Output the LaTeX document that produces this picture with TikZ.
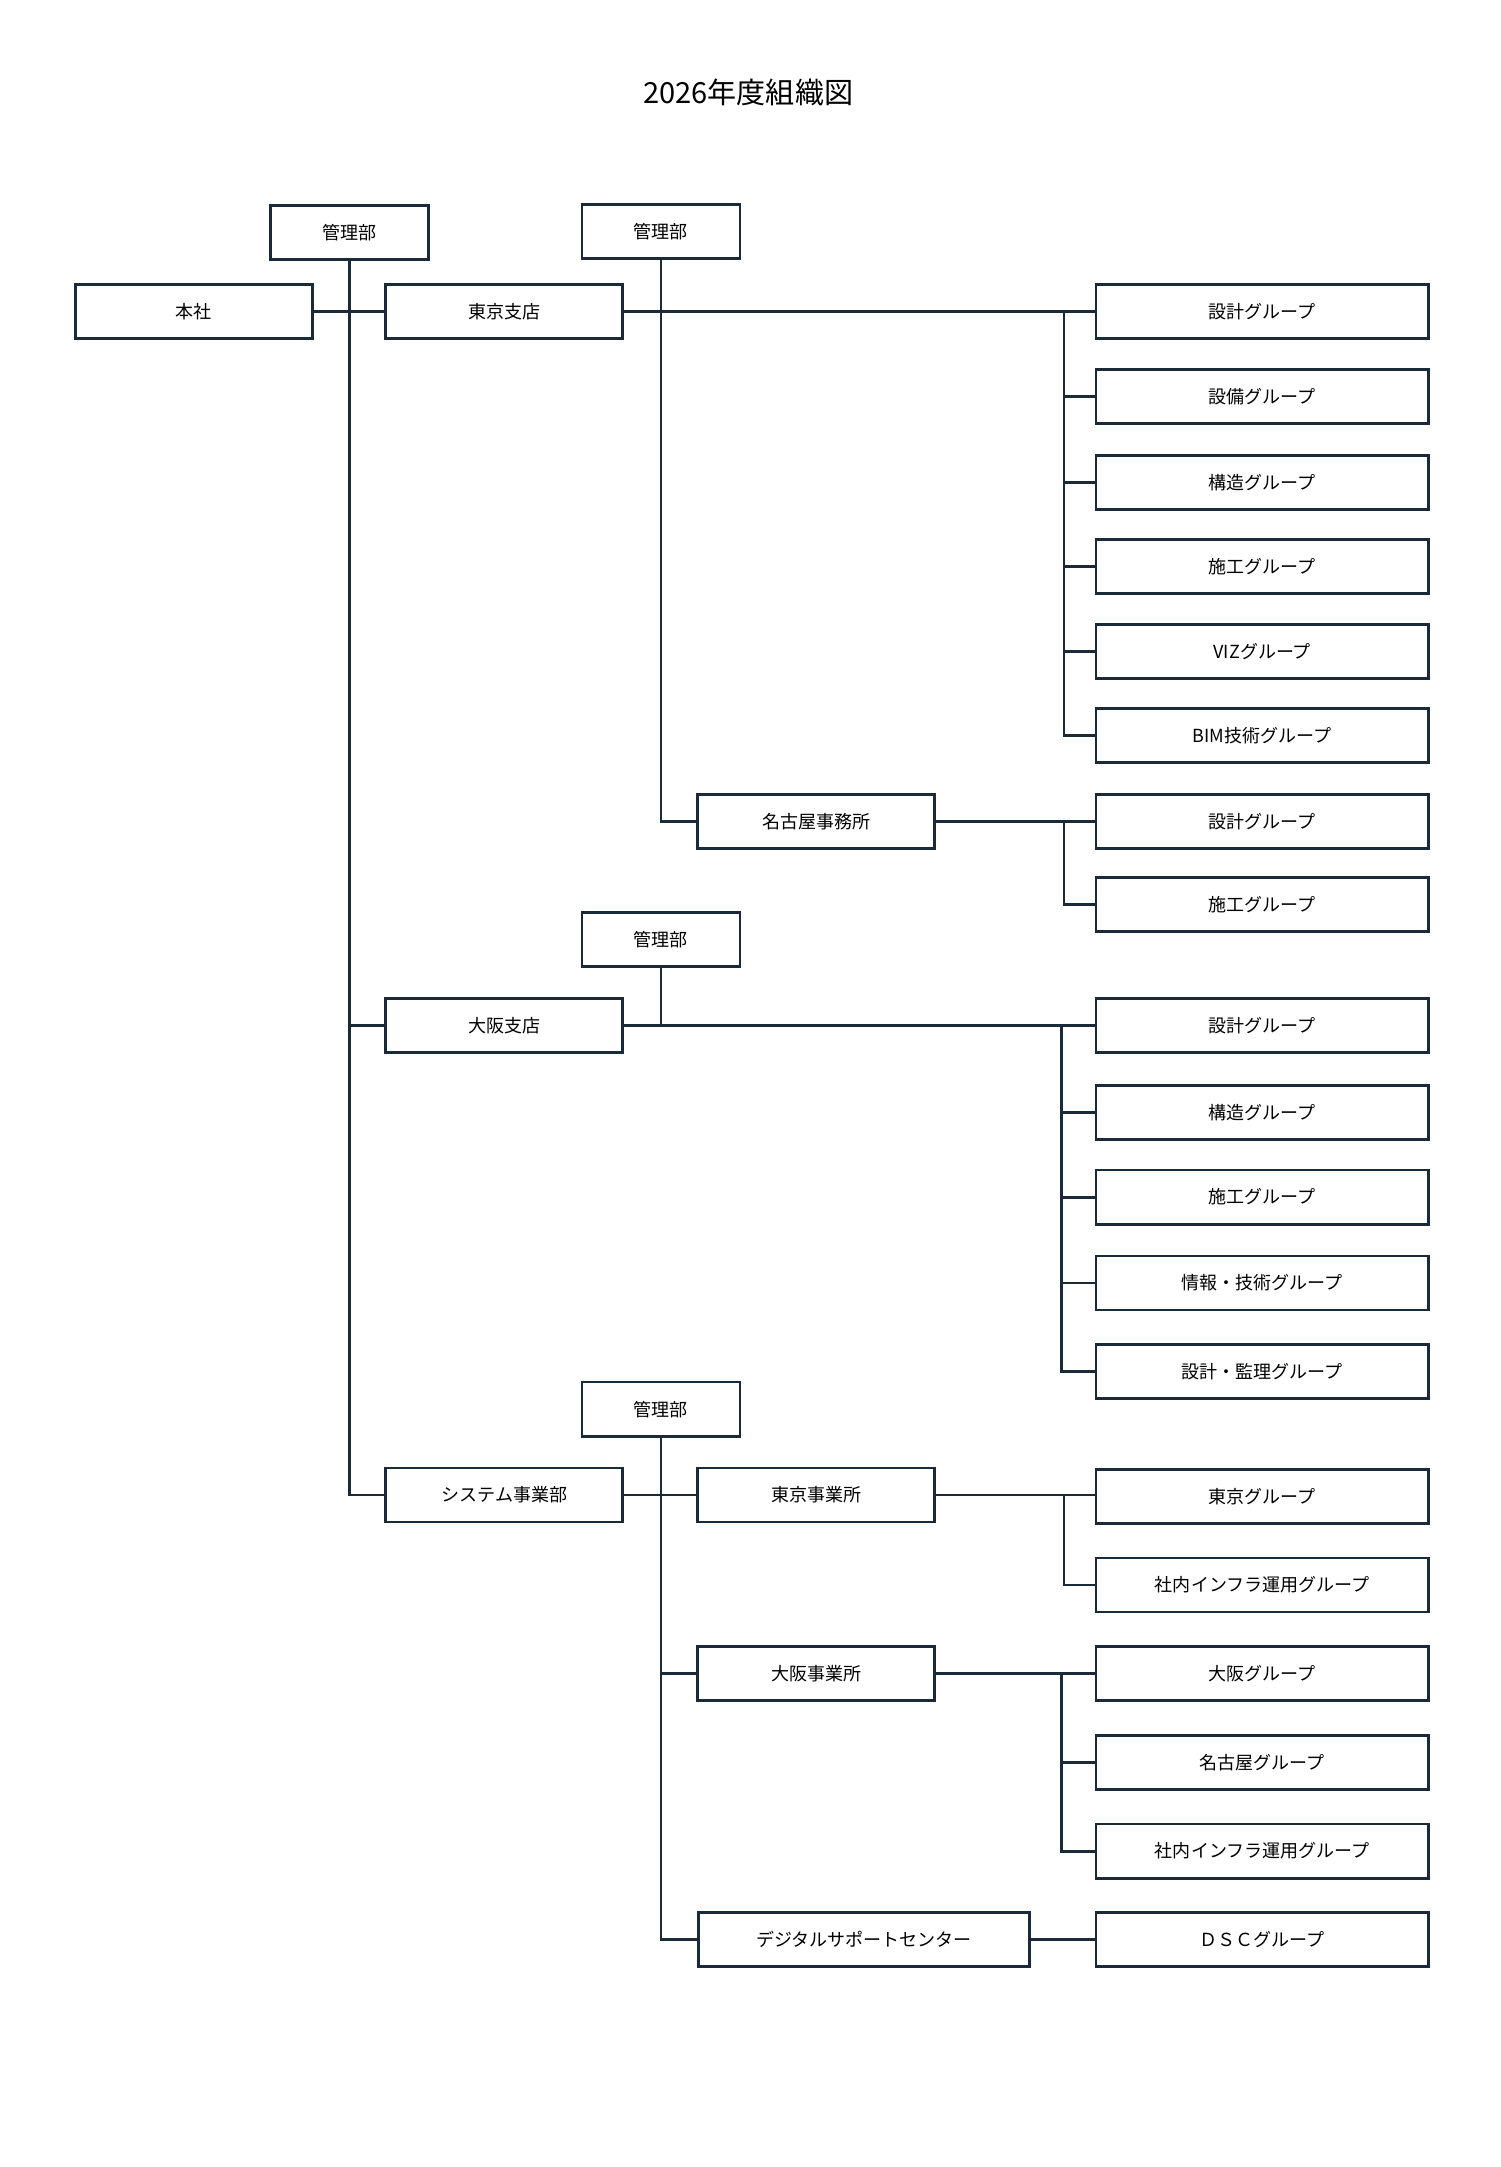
\documentclass[tikz,border=0pt]{standalone}
\usepackage{fontspec}
\setmainfont{Noto Sans CJK JP}
\begin{document}
\begin{tikzpicture}[x=1pt,y=-1pt,
  every node/.style={font=\fontsize{13}{15}\selectfont},
  box/.style={draw=ink,line width=2pt,minimum height=39pt,inner sep=0pt,fill=white},
  s/.style={box,minimum width=171pt},
  k/.style={box,minimum width=114pt},
  g/.style={box,minimum width=240pt},
  ln/.style={draw=ink,line width=2pt}]
\definecolor{ink}{HTML}{1B2A38}
\useasboundingbox (0,0) rectangle (1083,1564);
\node at (540,67) {\fontsize{21}{24}\selectfont 2026年度組織図};
\node[s] (honsha) at (140,225) {本社};
\node[k] (k1) at (252,168) {管理部};
\node[s] (tokyo) at (364,225) {東京支店};
\node[k] (k2) at (477,167) {管理部};
\node[s] (nagoya) at (589,593) {名古屋事務所};
\node[k] (k3) at (477,678) {管理部};
\node[s] (osaka) at (364,740) {大阪支店};
\node[k] (k4) at (477,1017) {管理部};
\node[s] (sys) at (364,1079) {システム事業部};
\node[s] (tj) at (589,1079) {東京事業所};
\node[s] (oj) at (589,1208) {大阪事業所};
\node[box,minimum width=239pt] (dsc) at (623.5,1400) {デジタルサポートセンター};
\foreach \n/\y/\t in {a1/225/設計グループ,a2/286/設備グループ,a3/348/構造グループ,a4/409/施工グループ,a5/470/VIZグループ,a6/531/BIM技術グループ,
 b1/593/設計グループ,b2/653/施工グループ,
 c1/740/設計グループ,c2/803/構造グループ,c3/864/施工グループ,c4/926/情報・技術グループ,c5/990/設計・監理グループ,
 d1/1080/東京グループ,d2/1144/社内インフラ運用グループ,
 e1/1208/大阪グループ,e2/1272/名古屋グループ,e3/1336/社内インフラ運用グループ,
 f1/1400/ＤＳＣグループ}
 {\node[g] (\n) at (911,\y) {\t};}
% trunk
\coordinate (t1) at (252,1079);
\draw[ln] (k1.south) -- (t1) -- (sys.west);
\draw[ln] (honsha.east) -- (tokyo.west);
\draw[ln] (osaka.west) -- (osaka.west -| k1.south);
% tokyo
\draw[ln] (tokyo.east) -- (a1.west);
\coordinate (va) at (768,225);
\draw[ln] (va) |- (a6.west);
\foreach \n in {a2,a3,a4,a5} \draw[ln] (\n.west) -- (\n.west -| va);
\draw[ln] (k2.south) |- (nagoya.west);
\draw[ln] (nagoya.east) -- (b1.west);
\coordinate (vb) at (768,593);
\draw[ln] (vb) |- (b2.west);
% osaka
\draw[ln] (k3.south) -- (osaka.east -| k3.south);
\draw[ln] (osaka.east) -- (c1.west);
\coordinate (vc) at (766,740);
\draw[ln] (vc) |- (c5.west);
\foreach \n in {c2,c3,c4} \draw[ln] (\n.west) -- (\n.west -| vc);
% system
\draw[ln] (sys.east) -- (tj.west);
\draw[ln] (k4.south) |- (dsc.west);
\draw[ln] (oj.west) -- (oj.west -| k4.south);
\draw[ln] (tj.east) -- (tj.east -| d1.west);
\coordinate (vd) at (768,1080);
\draw[ln] (vd) |- (d2.west);
\draw[ln] (oj.east) -- (e1.west);
\coordinate (ve) at (766,1208);
\draw[ln] (ve) |- (e3.west);
\draw[ln] (e2.west) -- (e2.west -| ve);
\draw[ln] (dsc.east) -- (f1.west);
\end{tikzpicture}
\end{document}
